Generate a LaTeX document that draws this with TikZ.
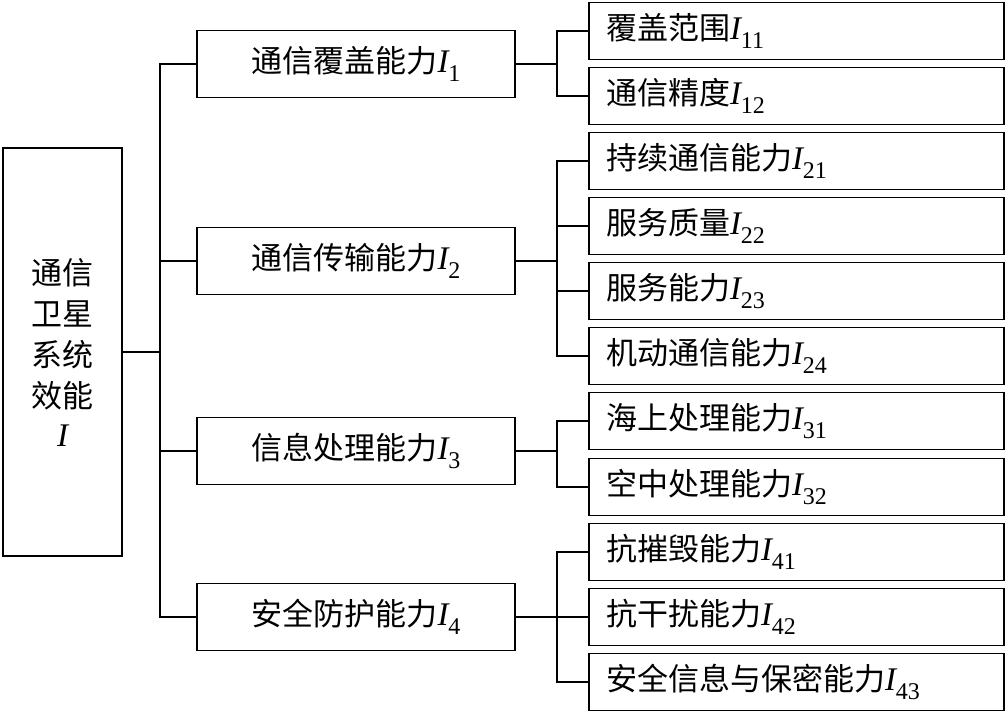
\documentclass[tikz,border=0pt]{standalone}
\usepackage{fontspec}
\setmainfont{Liberation Serif}
\newfontfamily\cjk{Noto Sans CJK SC}
\newfontfamily\latn{Liberation Serif}
\newcommand{\Isb}[1]{{\latn\fontsize{33}{33}\selectfont\itshape I}\raisebox{-0.28em}{\latn\fontsize{24}{24}\selectfont #1}}
\begin{document}
\begin{tikzpicture}[x=1pt,y=-1pt,
  box/.style={draw, line width=1.6pt, inner sep=0pt, font=\cjk\fontsize{31}{41}\selectfont},
  rootbox/.style={box, minimum width=119pt, minimum height=408pt, align=center},
  midbox/.style={box, minimum width=318pt, minimum height=67pt},
  leafbox/.style={box, text width=381pt, inner xsep=17pt, minimum height=57pt, align=left},
  conn/.style={line width=1.6pt}]
\useasboundingbox (0,0) rectangle (1005,715);
\node[rootbox] (root) at (62.5,352) {通信\\卫星\\系统\\效能\\[-2pt]{\latn\fontsize{33}{33}\selectfont\itshape I}};
\node[midbox] (m1) at (356,64) {通信覆盖能力\Isb{1}};
\node[midbox] (m2) at (356,261) {通信传输能力\Isb{2}};
\node[midbox] (m3) at (356,451) {信息处理能力\Isb{3}};
\node[midbox] (m4) at (356,617) {安全防护能力\Isb{4}};
\node[leafbox] (l11) at (796.5,31) {覆盖范围\Isb{11}};
\node[leafbox] (l12) at (796.5,96) {通信精度\Isb{12}};
\node[leafbox] (l21) at (796.5,161) {持续通信能力\Isb{21}};
\node[leafbox] (l22) at (796.5,226) {服务质量\Isb{22}};
\node[leafbox] (l23) at (796.5,291) {服务能力\Isb{23}};
\node[leafbox] (l24) at (796.5,356) {机动通信能力\Isb{24}};
\node[leafbox] (l31) at (796.5,421) {海上处理能力\Isb{31}};
\node[leafbox] (l32) at (796.5,487) {空中处理能力\Isb{32}};
\node[leafbox] (l41) at (796.5,552) {抗摧毁能力\Isb{41}};
\node[leafbox] (l42) at (796.5,617) {抗干扰能力\Isb{42}};
\node[leafbox] (l43) at (796.5,682) {安全信息与保密能力\Isb{43}};
\coordinate (bus) at (160,0);
\coordinate (lbus) at (557,0);
% level 1
\draw[conn] (root.east) -- (root.east -| bus);
\draw[conn] (m1.west) -| (bus |- m4.west) -- (m4.west);
\draw[conn] (bus |- m2.west) -- (m2.west);
\draw[conn] (bus |- m3.west) -- (m3.west);
% group 1
\draw[conn] (m1.east) -- (m1.east -| lbus);
\draw[conn] (l11.west) -| (lbus |- l12.west) -- (l12.west);
% group 2
\draw[conn] (m2.east) -- (m2.east -| lbus);
\draw[conn] (l21.west) -| (lbus |- l24.west) -- (l24.west);
\draw[conn] (lbus |- l22.west) -- (l22.west);
\draw[conn] (lbus |- l23.west) -- (l23.west);
% group 3
\draw[conn] (m3.east) -- (m3.east -| lbus);
\draw[conn] (l31.west) -| (lbus |- l32.west) -- (l32.west);
% group 4
\draw[conn] (m4.east) -- (m4.east -| lbus);
\draw[conn] (l41.west) -| (lbus |- l43.west) -- (l43.west);
\draw[conn] (lbus |- l42.west) -- (l42.west);
\end{tikzpicture}
\end{document}
